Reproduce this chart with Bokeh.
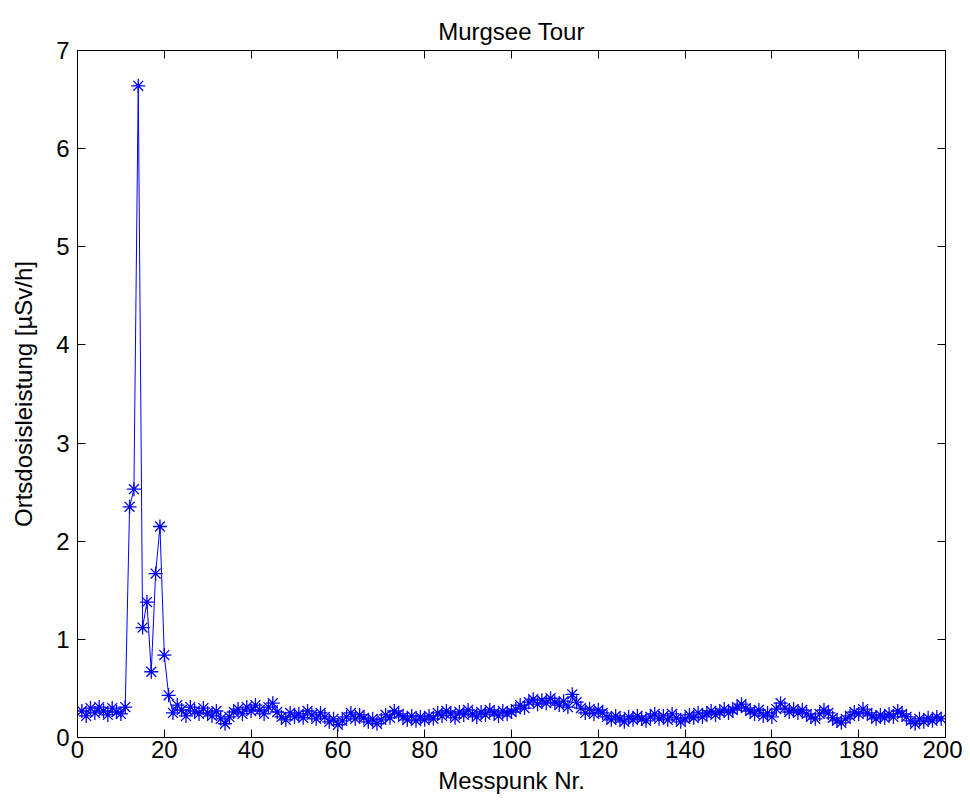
from bokeh.plotting import figure
from bokeh.models import LinearAxis, Range1d, FixedTicker
from bokeh.embed import file_html
from bokeh.resources import INLINE

# Messpunkt index and dose rate values (µSv/h)
dose = [
    0.27, 0.22, 0.30, 0.25, 0.31, 0.27, 0.23, 0.30, 0.26, 0.24,
    0.31, 2.35, 2.53, 6.64, 1.12, 1.38, 0.67, 1.67, 2.15, 0.84,
    0.43, 0.25, 0.33, 0.28, 0.22, 0.31, 0.27, 0.24, 0.30, 0.25,
    0.22, 0.27, 0.19, 0.14, 0.21, 0.26, 0.29, 0.24, 0.31, 0.27,
    0.33, 0.28, 0.24, 0.31, 0.35, 0.26, 0.21, 0.18, 0.25, 0.21,
    0.24, 0.20, 0.27, 0.23, 0.19, 0.25, 0.21, 0.16, 0.19, 0.13,
    0.17, 0.21, 0.25, 0.19, 0.23, 0.20, 0.16, 0.19, 0.14, 0.18,
    0.23, 0.20, 0.27, 0.24, 0.21, 0.18, 0.22, 0.17, 0.21, 0.18,
    0.22, 0.19, 0.25, 0.22, 0.27, 0.24, 0.20, 0.26, 0.23, 0.28,
    0.24, 0.21, 0.26, 0.23, 0.28, 0.25, 0.22, 0.27, 0.24, 0.26,
    0.29, 0.33, 0.30, 0.36, 0.39, 0.34, 0.38, 0.35, 0.40, 0.36,
    0.33, 0.37, 0.31, 0.44, 0.36, 0.30, 0.25, 0.29, 0.24, 0.28,
    0.25, 0.21, 0.18, 0.22, 0.19, 0.16, 0.21, 0.18, 0.22, 0.19,
    0.17, 0.21, 0.24, 0.19, 0.22, 0.18, 0.24, 0.20, 0.16, 0.19,
    0.23, 0.20, 0.25, 0.21, 0.24, 0.27, 0.23, 0.26, 0.29, 0.25,
    0.28, 0.31, 0.34, 0.30, 0.27, 0.24, 0.28, 0.22, 0.25, 0.21,
    0.29, 0.35, 0.30, 0.26, 0.29, 0.25, 0.28, 0.24, 0.21, 0.19,
    0.24, 0.28, 0.25, 0.20, 0.17, 0.15, 0.19, 0.22, 0.26, 0.24,
    0.29, 0.25, 0.22, 0.19, 0.23, 0.20, 0.24, 0.21, 0.27, 0.24,
    0.21, 0.17, 0.14, 0.19, 0.16, 0.20, 0.17, 0.21, 0.19,
]
messpunkt = list(range(1, len(dose) + 1))

x_ticks = [0, 20, 40, 60, 80, 100, 120, 140, 160, 180, 200]
y_ticks = [0, 1, 2, 3, 4, 5, 6, 7]

FONT = "Liberation Sans"
FS = "24px"

p = figure(width=962, height=810, output_backend="svg", toolbar_location=None,
           x_range=Range1d(0, 200), y_range=Range1d(0, 7),
           min_border_left=77, min_border_right=17, min_border_top=50,
           min_border_bottom=73, title="Murgsee Tour")
p.title.align = "center"
p.title.text_font = FONT
p.title.text_font_size = FS
p.title.text_font_style = "normal"
p.title.text_color = "black"
p.title.offset = 0
p.title.standoff = 12

p.grid.visible = False
p.outline_line_color = "black"
p.outline_line_width = 1
p.background_fill_color = "white"
p.border_fill_color = "white"

def style(ax, ticks, labels=True):
    ax.ticker = FixedTicker(ticks=ticks)
    ax.major_tick_in = 8
    ax.major_tick_out = 0
    ax.minor_tick_in = 0
    ax.minor_tick_out = 0
    ax.axis_line_color = "black"
    ax.major_tick_line_color = "black"
    ax.major_label_text_font = FONT
    ax.major_label_text_font_size = FS
    ax.major_label_text_color = "black"
    ax.axis_label_text_font = FONT
    ax.axis_label_text_font_size = FS
    ax.axis_label_text_font_style = "normal"
    ax.axis_label_text_color = "black"
    if not labels:
        ax.major_label_text_font_size = "0px"
        ax.major_label_text_alpha = 0

style(p.xaxis[0], x_ticks)
style(p.yaxis[0], y_ticks)
p.xaxis[0].axis_label = "Messpunk Nr."
p.yaxis[0].axis_label = "Ortsdosisleistung [µSv/h]"
p.xaxis[0].major_label_standoff = 3
p.xaxis[0].axis_label_standoff = 6
p.yaxis[0].major_label_standoff = 8
p.yaxis[0].axis_label_standoff = 16

top = LinearAxis()
style(top, x_ticks, labels=False)
p.add_layout(top, "above")
right = LinearAxis()
style(right, y_ticks, labels=False)
p.add_layout(right, "right")

p.line(messpunkt, dose, line_color="#0000ff", line_width=1)
p.scatter(messpunkt, dose, marker="asterisk", size=14, line_color="#0000ff",
          line_width=1.3)

open("out.html", "w").write(file_html(p, INLINE))
